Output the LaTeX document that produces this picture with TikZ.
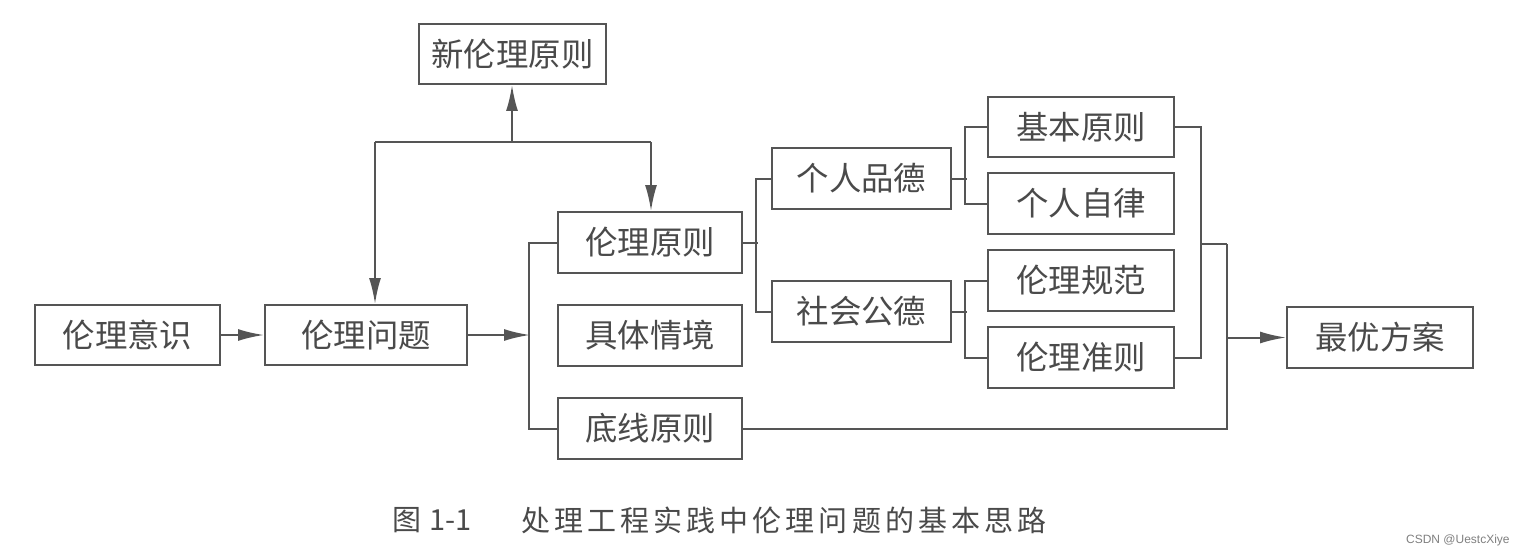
\documentclass[tikz,border=0pt]{standalone}
\usepackage{fontspec}
\usetikzlibrary{arrows.meta,calc}
\newfontfamily\cjk{Noto Sans CJK SC}
\newfontfamily\capfont[LetterSpace=14]{Noto Sans CJK SC}
\definecolor{ink}{HTML}{4A4A4A}
\definecolor{wire}{HTML}{555555}
\tikzset{
  box/.style={draw=wire, line width=1pt, inner sep=0pt, text=ink,
    font=\cjk\fontsize{16.2}{18}\selectfont},
  wireline/.style={draw=wire, line width=1pt},
  arr/.style={wireline, -{Latex[length=13pt,width=6pt]}},
}
\begin{document}
\begin{tikzpicture}[x=0.5pt,y=-0.5pt]
\useasboundingbox (0,0) rectangle (1524,556);
\fill[white] (0,0) rectangle (1524,556);

% boxes
\node[box, minimum width=93.5pt, minimum height=30pt]   (new)  at (512.5,54)   {新伦理原则};
\node[box, minimum width=92.5pt, minimum height=30pt]   (aware) at (127.5,335) {伦理意识};
\node[box, minimum width=101pt, minimum height=30pt]    (prob) at (366,335)    {伦理问题};
\node[box, minimum width=92pt, minimum height=30.5pt]   (prin) at (650,242.5)  {伦理原则};
\node[box, minimum width=92pt, minimum height=30.5pt]   (ctx)  at (650,335.5)  {具体情境};
\node[box, minimum width=92pt, minimum height=30.5pt]   (base) at (650,428.5)  {底线原则};
\node[box, minimum width=89.5pt, minimum height=30.5pt] (pers) at (861.5,178.5) {个人品德};
\node[box, minimum width=89.5pt, minimum height=30.5pt] (soc)  at (861.5,311.5) {社会公德};
\node[box, minimum width=93pt, minimum height=30pt]     (jb)   at (1081,127)   {基本原则};
\node[box, minimum width=93pt, minimum height=30.5pt]   (zl)   at (1081,203.5) {个人自律};
\node[box, minimum width=93pt, minimum height=30.5pt]   (gf)   at (1081,280.5) {伦理规范};
\node[box, minimum width=93pt, minimum height=30.5pt]   (zz)   at (1081,357.5) {伦理准则};
\node[box, minimum width=93pt, minimum height=30.5pt]   (opt)  at (1380,337.5) {最优方案};

% feedback loop above
\coordinate (tl) at (375,142);
\coordinate (tm) at (512,142);
\coordinate (tr) at (651,142);
\draw[wireline] (tl) -- (tr);
\draw[arr] (tm) -- (tm |- new.south);
\draw[arr] (tl) -- (tl |- prob.north);
\draw[arr] (tr) -- (tr |- prin.north);

% main flow
\draw[arr] (aware.east) -- (prob.east -| prob.west);
\coordinate (b1) at (530,335);
\draw[arr] (prob.east) -- (b1);
\draw[wireline] (prin.west) -- ++(-28,0) |- (base.west);

\draw[wireline] (prin.east) -- ++(15,0);
\draw[wireline] (pers.west) -- ++(-15,0) |- (soc.west);

\draw[wireline] (pers.east) -- ++(15,0);
\draw[wireline] (jb.west) -- ++(-22,0) |- (zl.west);
\draw[wireline] (soc.east) -- ++(15,0);
\draw[wireline] (gf.west) -- ++(-22,0) |- (zz.west);

% gathering on the right
\draw[wireline] (jb.east) -- ++(26,0) |- (zz.east);
\coordinate (m) at (1200,244);
\coordinate (c2) at (1227,244);
\draw[wireline] (m) -- (c2);
\draw[wireline] (base.east) -| (c2);
\draw[arr] (c2 |- opt.west) -- (opt.west);

% caption
\node[text=ink, font=\capfont\fontsize{14.5}{16}\selectfont, anchor=west, inner sep=0pt]
  (capnum) at (392,520) {图\hspace{4pt}{\cjk 1-1}};
\node[text=ink, font=\capfont\fontsize{14.5}{16}\selectfont, anchor=west, inner sep=0pt]
  (cap) at (521,520) {处理工程实践中伦理问题的基本思路};
\node[text=gray, font=\fontspec{Liberation Sans}\fontsize{6}{7}\selectfont, anchor=east, inner sep=0pt]
  (wm) at (1510,540) {CSDN @UestcXiye};
\end{tikzpicture}
\end{document}
